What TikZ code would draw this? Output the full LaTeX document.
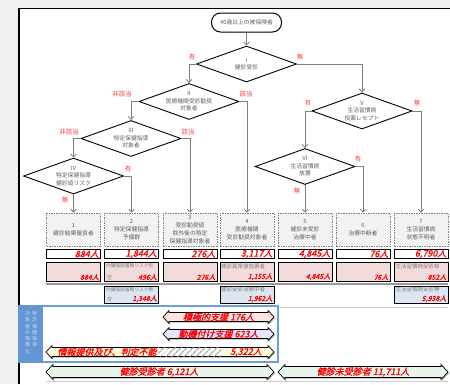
\documentclass[tikz,border=0pt]{standalone}
\usepackage{fontspec}
\newfontfamily\jp{Noto Sans CJK JP}
\newfontfamily\jpbi[FakeSlant=0.25,FakeBold=1.5]{Noto Sans CJK JP}
\usetikzlibrary{shapes.geometric,arrows.meta,patterns.meta,calc}
\definecolor{bggray}{HTML}{F0F0F0}
\definecolor{txtgray}{HTML}{606060}
\definecolor{linegray}{HTML}{7F7F7F}
\definecolor{boxfill}{HTML}{F2F2F2}
\definecolor{pinkfill}{HTML}{F2DCDB}
\definecolor{bluefill}{HTML}{DCE6F1}
\definecolor{redlab}{HTML}{FF4040}
\definecolor{numred}{HTML}{FF0000}
\definecolor{blueline}{HTML}{6F9FD8}
\definecolor{bluecol}{HTML}{6495D5}
\definecolor{vtcol}{HTML}{C5D9F1}
\definecolor{afa}{HTML}{FFE2E2}
\definecolor{afb}{HTML}{E4E4FF}
\definecolor{afc}{HTML}{FFFFE0}
\definecolor{afd}{HTML}{E6F4EA}
\definecolor{sepgray}{HTML}{9A9A9A}
\definecolor{thingray}{HTML}{CCCCCC}
\newcommand\dblarr[7]{%
 \fill[gray!60, shift={(1,1.2)}] (#1,#3) -- ({#1+#6},{#3-#5}) -- ({#1+#6},{#3-#4}) -- ({#2-#6},{#3-#4}) -- ({#2-#6},{#3-#5}) -- (#2,#3) -- ({#2-#6},{#3+#5}) -- ({#2-#6},{#3+#4}) -- ({#1+#6},{#3+#4}) -- ({#1+#6},{#3+#5}) -- cycle;
 \draw[black, line width=0.7pt, fill=#7] (#1,#3) -- ({#1+#6},{#3-#5}) -- ({#1+#6},{#3-#4}) -- ({#2-#6},{#3-#4}) -- ({#2-#6},{#3-#5}) -- (#2,#3) -- ({#2-#6},{#3+#5}) -- ({#2-#6},{#3+#4}) -- ({#1+#6},{#3+#4}) -- ({#1+#6},{#3+#5}) -- cycle;}
\begin{document}
\begin{tikzpicture}[x=1pt,y=-1pt,
 diam/.style={diamond, draw=black, line width=0.9pt, fill=white, minimum width=100pt, minimum height=36pt, inner sep=0pt},
 dtxt/.style={font=\jp\fontsize{5.8}{7.6}\selectfont, text=txtgray, align=center, inner sep=0pt},
 lab/.style={font=\jp\fontsize{6.5}{7}\selectfont, text=redlab, inner sep=0pt},
 conn/.style={draw=linegray, line width=0.8pt, -{Straight Barb[length=3pt,width=5.5pt]}},
 startbox/.style={rectangle, rounded corners=9pt, draw=black, line width=1pt, fill=white, minimum width=70pt, minimum height=19pt, inner sep=0pt, font=\jp\fontsize{5.8}{7}\selectfont, text=txtgray},
 catbox/.style={rectangle, draw=gray, line width=0.6pt, dash pattern=on 1.5pt off 1pt, fill=boxfill, minimum width=54pt, minimum height=33pt, inner sep=0pt, align=center, font=\jp\fontsize{5.8}{7.8}\selectfont, text=txtgray},
 cntbox/.style={rectangle, draw=black, line width=1pt, fill=white, minimum width=54pt, minimum height=9pt, inner sep=0pt},
 pinkbox/.style={rectangle, draw=black, line width=1pt, fill=pinkfill, minimum width=54pt, minimum height=19pt, inner sep=0pt},
 bluebox/.style={rectangle, draw=black, line width=1pt, fill=bluefill, minimum width=54pt, minimum height=17pt, inner sep=0pt},
 bignum/.style={font=\jpbi\fontsize{9}{9}\selectfont, text=numred, inner sep=0pt, anchor=east},
 smallnum/.style={font=\jpbi\fontsize{7}{7}\selectfont, text=numred, inner sep=0pt, anchor=south east},
 hdr/.style={font=\jp\fontsize{5.5}{6}\selectfont\itshape, text=gray, inner sep=0pt, anchor=north west},
 smark/.style={font=\jp\fontsize{5}{5}\selectfont, text=gray, inner sep=0pt, anchor=south west},
 vtxt/.style={font=\jp\fontsize{5}{6.3}\selectfont, text=vtcol, align=center, inner sep=0pt, anchor=north},
 arrtxt/.style={font=\jpbi\fontsize{9}{9}\selectfont, text=numred, inner sep=0pt}
]
\useasboundingbox (0,0) rectangle (450,384);
% page
\fill[bggray] (0,0) rectangle (450,384);
\fill[white] (19,8.5) rectangle (450,384);
\draw[black, line width=1.3pt] (19,384) -- (19,8.5) -- (450,8.5);

% start + diamonds
\node[startbox] (start) at (246.5,22.5) {40歳以上の被保険者};
\node[diam] (dI) at (246.5,64) {};
\node[dtxt] (tI) at (dI) {Ⅰ\\健診受診};
\node[diam] (dII) at (189,101.5) {};
\node[dtxt] (tII) at (dII) {Ⅱ\\医療機関受診勧奨\\対象者};
\node[diam] (dIII) at (131,138.5) {};
\node[dtxt] (tIII) at (dIII) {Ⅲ\\特定保健指導\\対象者};
\node[diam] (dIV) at (73.5,176) {};
\node[dtxt] (tIV) at (dIV) {Ⅳ\\特定保健指導\\健診値リスク};
\node[diam] (dV) at (362,111) {};
\node[dtxt] (tV) at (dV) {Ⅴ\\生活習慣病\\投薬レセプト};
\node[diam] (dVI) at (305,166.5) {};
\node[dtxt] (tVI) at (dVI) {Ⅵ\\生活習慣病\\放置};

% labels
\node[lab] (l1) at (192,57) {有};
\node[lab] (l2) at (300,57) {無};
\node[lab] (l3) at (122,94) {非該当};
\node[lab] (l4) at (246,94) {該当};
\node[lab] (l5) at (69,132) {非該当};
\node[lab] (l6) at (188,132) {該当};
\node[lab] (l7) at (128,169) {有};
\node[lab] (l8) at (65,200) {無};
\node[lab] (l9) at (308,103) {有};
\node[lab] (l10) at (417,103) {無};
\node[lab] (l11) at (358,159) {有};
\node[lab] (l12) at (297,191) {無};

% category boxes
\node[catbox] (b1) at (73.5,229.5) {1\\健診結果優良者};
\node[catbox] (b2) at (131.5,229.5) {2\\特定保健指導\\予備群};
\node[catbox] (b3) at (190,229.5) {3\\受診勧奨値\\除外後の特定\\保健指導対象者};
\node[catbox] (b4) at (247,229.5) {4\\医療機関\\受診勧奨対象者};
\node[catbox] (b5) at (305,229.5) {5\\健診未受診\\治療中者};
\node[catbox] (b6) at (363,229.5) {6\\治療中断者};
\node[catbox] (b7) at (421,229.5) {7\\生活習慣病\\状態不明者};

% connectors
\draw[conn] (start.south) -- (dI.north);
\draw[conn] (dI.west) -| (dII.north);
\draw[conn] (dI.east) -| (dV.north);
\draw[conn] (dII.west) -| (dIII.north);
\draw[conn] (dII.east) -| (b4.north);
\draw[conn] (dIII.west) -| (dIV.north);
\draw[conn] (dIII.east) -| (b3.north);
\draw[conn] (dIV.south) -- (b1.north);
\draw[conn] (dIV.east) -| (b2.north);
\draw[conn] (dV.west) -| (dVI.north);
\draw[conn] (dV.east) -| (b7.north);
\draw[conn] (dVI.south) -- (b5.north);
\draw[conn] (dVI.east) -| (b6.north);

% count row
\foreach \n/\x/\v in {1/73.5/884人, 2/131.5/1{,}844人, 3/190/276人, 4/247/3{,}117人, 5/305/4{,}845人, 6/363/76人, 7/421/6{,}790人}{
  \node[cntbox] (c\n) at (\x,253.5) {};
  \node[bignum] (cn\n) at ([shift={(-2,0.3)}]c\n.east) {\v};
}

% pink row
\foreach \n/\x/\v in {1/73.5/884人, 2/131.5/496人, 3/190/276人, 4/247/1{,}155人, 5/305/4{,}845人, 6/363/76人, 7/421/852人}{
  \node[pinkbox] (p\n) at (\x,271.5) {};
  \node[smallnum] (pn\n) at ([shift={(-2,-1)}]p\n.south east) {\v};
}
\node[hdr, font=\jp\fontsize{4.7}{5}\selectfont\itshape] (ph2) at ([shift={(2,2)}]p2.north west) {内臓脂肪蓄積リスク有};
\node[smark] (pm2) at ([shift={(3,-1.5)}]p2.south west) {空};
\node[hdr] (ph4) at ([shift={(1.5,2)}]p4.north west) {健診異常値放置者};
\node[hdr] (ph7) at ([shift={(2,2)}]p7.north west) {生活習慣病受診有};

\draw[sepgray, line width=2pt] (46,283.5) -- (448,283.5);

% blue row
\foreach \n/\x/\v in {2/131.5/1{,}348人, 4/247/1{,}962人, 7/421/5{,}938人}{
  \node[bluebox] (q\n) at (\x,294.5) {};
  \node[smallnum] (qn\n) at ([shift={(-2,-1)}]q\n.south east) {\v};
}
\node[hdr, font=\jp\fontsize{4.7}{5}\selectfont\itshape] (qh2) at ([shift={(2,1.5)}]q2.north west) {内臓脂肪蓄積リスク無};
\node[smark] (qm2) at ([shift={(3,-1.5)}]q2.south west) {空};
\node[hdr] (qh4) at ([shift={(1.5,1.5)}]q4.north west) {健診受診治療中者};
\node[hdr] (qh7) at ([shift={(2,1.5)}]q7.north west) {生活習慣病受診無};

% thin lines
\draw[thingray, line width=0.8pt] (46,307) -- (448,307);
\draw[thingray, line width=0.8pt] (46,381) -- (448,381);

% blue frame
\fill[white] (19,306) rectangle (278,362);
\draw[blueline, line width=1.1pt] (19,306) rectangle (278,362);
\fill[bluecol] (18.4,305.4) rectangle (42.5,362.6);
\node[vtxt] (vt1) at (34.5,311) {特\\定\\保\\健\\指\\導};
\node[vtxt] (vt2) at (27.5,311) {対\\象\\者\\の\\階\\層\\化};

% arrows
\dblarr{163}{274}{317}{4.5}{6.5}{6}{afa}
\node[arrtxt] (a1) at (218.5,317) {積極的支援 176人};
\dblarr{163}{274}{334}{4.5}{6.5}{6}{afb}
\node[arrtxt] (a2) at (218.5,334) {動機付け支援 623人};
\dblarr{46}{274}{352}{4.5}{6.5}{6}{afc}
\fill[white] (158,347.8) rectangle (221,356.2);
\fill[pattern={Lines[angle=45,distance=4pt,line width=1.3pt]}, pattern color=gray!70] (158,347.8) rectangle (221,356.2);
\node[arrtxt] (a3) at (107,352) {情報提供及び、判定不能};
\node[arrtxt] (a3n) at (246,352) {5,322人};
\dblarr{46}{274}{372}{5.5}{7.5}{7}{afd}
\node[arrtxt] (a4) at (159,372) {健診受診者 6,121人};
\dblarr{278}{448}{372}{5.5}{7.5}{7}{afd}
\node[arrtxt] (a5) at (363,372) {健診未受診者 11,711人};
\end{tikzpicture}
\end{document}
